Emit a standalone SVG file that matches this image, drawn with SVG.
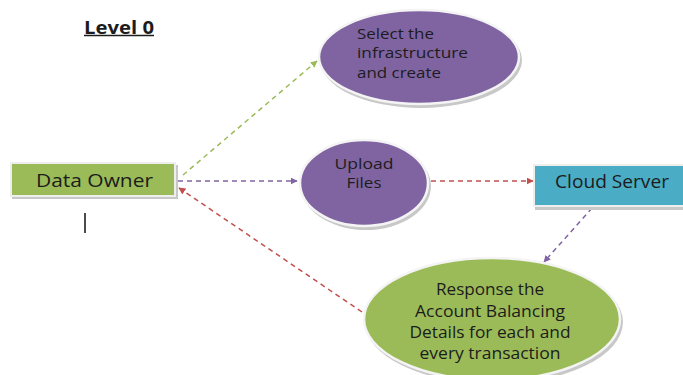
<svg xmlns="http://www.w3.org/2000/svg" width="683" height="375" viewBox="0 0 683 375">
<style>
.t{font-family:"Open Sans","DejaVu Sans",sans-serif;fill:#1c1c1c}
.sh{fill:#c8c8c8}
.ell{stroke:#f4f4f4;stroke-width:2.5}
.pur{fill:#8064a2}
.grn{fill:#9bbb59}
.blu{fill:#4bacc6}
.c{fill:none;stroke-width:1.5;stroke-dasharray:5 4}
</style>
<defs>
<marker id="ag" viewBox="0 0 10 10" refX="9" refY="5" markerWidth="7" markerHeight="7" orient="auto" markerUnits="userSpaceOnUse"><path d="M0,0L10,5L0,10z" fill="#9bbb59"/></marker>
<marker id="ap" viewBox="0 0 10 10" refX="9" refY="5" markerWidth="7" markerHeight="7" orient="auto" markerUnits="userSpaceOnUse"><path d="M0,0L10,5L0,10z" fill="#8064a2"/></marker>
<marker id="ar" viewBox="0 0 10 10" refX="9" refY="5" markerWidth="7" markerHeight="7" orient="auto" markerUnits="userSpaceOnUse"><path d="M0,0L10,5L0,10z" fill="#c0504d"/></marker>
</defs>
<rect width="683" height="375" fill="#ffffff"/>
<g id="title">
<text class="t" x="84" y="34" font-size="17" font-weight="bold" textLength="70" lengthAdjust="spacingAndGlyphs">Level 0</text>
<line x1="84" y1="35.5" x2="154" y2="35.5" stroke="#1c1c1c" stroke-width="1.3"/>
</g>
<g id="cursor"><line x1="85" y1="213" x2="85" y2="233" stroke="#111" stroke-width="1.5"/></g>
<g id="connectors">
<line class="c" x1="183" y1="175" x2="317" y2="61" stroke="#9bbb59" marker-end="url(#ag)"/>
<line class="c" x1="178" y1="181" x2="297" y2="181" stroke="#8064a2" marker-end="url(#ap)"/>
<line class="c" x1="431" y1="181" x2="533" y2="181" stroke="#c0504d" marker-end="url(#ar)"/>
<line class="c" x1="592" y1="208" x2="544" y2="262" stroke="#8064a2" marker-end="url(#ap)"/>
<line class="c" x1="362" y1="312" x2="179" y2="188" stroke="#c0504d" marker-end="url(#ar)"/>
</g>
<g id="select">
<ellipse class="sh" cx="421" cy="60" rx="101" ry="48"/>
<ellipse class="ell pur" cx="419" cy="57" rx="100" ry="47"/>
<text class="t" font-size="15"><tspan x="357" y="39" textLength="77" lengthAdjust="spacingAndGlyphs">Select the</tspan><tspan x="357" y="58" textLength="111" lengthAdjust="spacingAndGlyphs">infrastructure</tspan><tspan x="357" y="78" textLength="84" lengthAdjust="spacingAndGlyphs">and create</tspan></text>
</g>
<g id="dataowner">
<rect x="12" y="165" width="166" height="34" class="sh"/>
<rect x="11" y="163" width="164" height="33" class="grn" stroke="#eeeeee" stroke-width="2"/>
<text class="t" x="36" y="187" font-size="18" textLength="117" lengthAdjust="spacingAndGlyphs">Data Owner</text>
</g>
<g id="upload">
<ellipse class="sh" cx="366" cy="186" rx="65" ry="44"/>
<ellipse class="ell pur" cx="364" cy="183" rx="64" ry="43"/>
<text class="t" font-size="15" text-anchor="middle"><tspan x="364" y="169" textLength="59" lengthAdjust="spacingAndGlyphs">Upload</tspan><tspan x="364" y="188" textLength="35" lengthAdjust="spacingAndGlyphs">Files</tspan></text>
</g>
<g id="cloudserver">
<rect x="535" y="168" width="150" height="42" class="sh"/>
<rect x="534" y="165" width="152" height="41" class="blu" stroke="#eeeeee" stroke-width="2"/>
<text class="t" x="555" y="188" font-size="18" textLength="114" lengthAdjust="spacingAndGlyphs">Cloud Server</text>
</g>
<g id="response">
<ellipse class="sh" cx="494" cy="322" rx="129" ry="62"/>
<ellipse class="ell grn" cx="492" cy="319" rx="128" ry="61"/>
<text class="t" font-size="17" text-anchor="middle"><tspan x="490" y="295" textLength="108" lengthAdjust="spacingAndGlyphs">Response the</tspan><tspan x="490" y="317" textLength="150" lengthAdjust="spacingAndGlyphs">Account Balancing</tspan><tspan x="490" y="338" textLength="161" lengthAdjust="spacingAndGlyphs">Details for each and</tspan><tspan x="490" y="359" textLength="141" lengthAdjust="spacingAndGlyphs">every transaction</tspan></text>
</g>
</svg>
